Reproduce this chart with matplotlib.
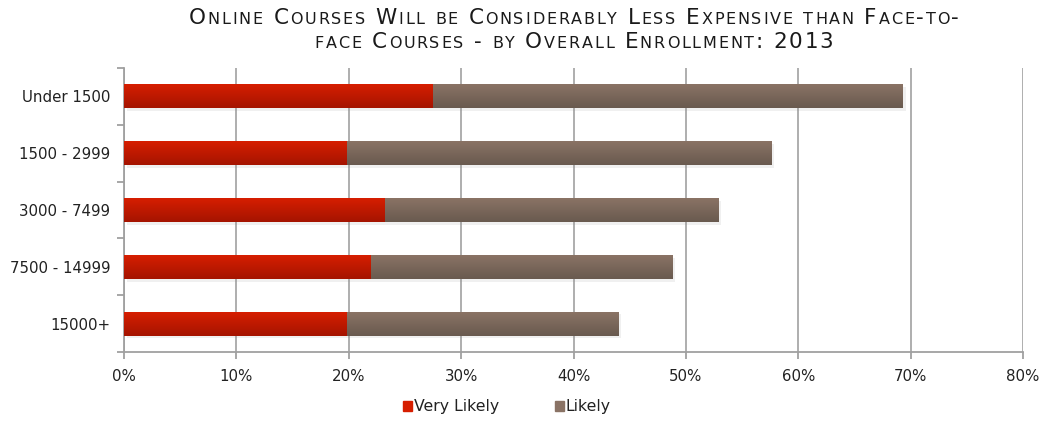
import numpy as np
import matplotlib
matplotlib.use("Agg")
import matplotlib.pyplot as plt
from matplotlib.patches import Rectangle
from matplotlib.offsetbox import TextArea, HPacker, AnnotationBbox
import matplotlib.patheffects as pe
from matplotlib.colors import LinearSegmentedColormap

categories = ["Under 1500", "1500 - 2999", "3000 - 7499", "7500 - 14999", "15000+"]
very_likely = [27.5, 19.8, 23.2, 22.0, 19.8]
likely = [41.8, 37.8, 29.7, 26.8, 24.2]
series_names = ["Very Likely", "Likely"]
xticks = [0, 10, 20, 30, 40, 50, 60, 70, 80]
title_lines = ["Online Courses Will be Considerably Less Expensive than Face-to-",
               "face Courses - by Overall Enrollment: 2013"]

red_top, red_bot = "#d61e00", "#a51400"
brn_top, brn_bot = "#8a7365", "#695a4f"

fig = plt.figure(figsize=(10.46, 4.21), dpi=100)
ax = fig.add_axes([124/1046, 1-352/421, (1023-124)/1046, (352-68)/421])

y = np.arange(len(categories))
h = 0.42
shadow = [pe.SimplePatchShadow(offset=(2, -2), alpha=0.12, shadow_rgbFace="#888888"), pe.Normal()]
b1 = ax.barh(y, very_likely, height=h, color=red_top, zorder=3, path_effects=shadow)
b2 = ax.barh(y, likely, left=very_likely, height=h, color=brn_top, zorder=3, path_effects=shadow)

grad = np.linspace(0, 1, 64).reshape(-1, 1)
for bars, (ct, cb) in ((b1, (red_top, red_bot)), (b2, (brn_top, brn_bot))):
    cmap = LinearSegmentedColormap.from_list("g", [ct, cb])
    for p in bars:
        x0, y0, w, hh = p.get_x(), p.get_y(), p.get_width(), p.get_height()
        im = ax.imshow(grad, cmap=cmap, aspect="auto", extent=(x0, x0 + w, y0 + hh, y0),
                       origin="upper", zorder=4, interpolation="bilinear")
        im.set_clip_path(p)

tick_col = "#222222"
ax.set_xlim(0, 80)
ax.set_ylim(len(categories) - 0.5, -0.5)
ax.set_xticks(xticks)
ax.set_xticklabels([f"{v}%" for v in xticks], fontsize=10.8, color=tick_col)
ax.set_yticks(np.arange(-0.5, len(categories), 1.0))
ax.set_yticklabels([])
ax.set_yticks(y, minor=True)
ax.set_yticklabels(categories, minor=True, fontsize=10.8, color=tick_col)
ax.tick_params(axis="y", which="minor", length=0, pad=10)
ax.tick_params(axis="y", which="major", length=5, color="#a0a0a0", width=1.3)
ax.tick_params(axis="x", length=5, color="#a0a0a0", width=1.3, pad=7)
ax.xaxis.grid(True, color="#a8a8a8", lw=1.3, zorder=0)
ax.set_axisbelow(True)
for s in ("top", "right"):
    ax.spines[s].set_visible(False)
for s in ("left", "bottom"):
    ax.spines[s].set_color("#a0a0a0")
    ax.spines[s].set_linewidth(1.3)

# small caps title with letter spacing
big, small = 15.5, 11.5
tfam = "DejaVu Sans"
def small_caps(line):
    areas = []
    for ch in line:
        if ch.islower():
            sz, c = small, ch.upper()
        else:
            sz, c = big, ch
        if c == " ":
            c = "\u00a0"
        areas.append(TextArea(c, textprops=dict(fontsize=sz, family=tfam, color="#1a1a1a")))
    return areas

for i, line in enumerate(title_lines):
    pack = HPacker(children=small_caps(line), align="baseline", pad=0, sep=1.3)
    ab = AnnotationBbox(pack, (574/1046, 1 - (18 + 24*i)/421), xycoords="figure fraction",
                        frameon=False, box_alignment=(0.5, 0.5), pad=0)
    fig.add_artist(ab)

handles = [Rectangle((0, 0), 1, 1, color=red_top), Rectangle((0, 0), 1, 1, color=brn_top)]
fig.legend(handles, series_names, loc="center", bbox_to_anchor=(507/1046, 1 - 407/421), ncol=2,
           frameon=False, fontsize=11.3, handlelength=0.55, handleheight=0.55, handletextpad=0.1,
           columnspacing=3.6, labelcolor=tick_col)

fig.savefig("out.png", dpi=100)
